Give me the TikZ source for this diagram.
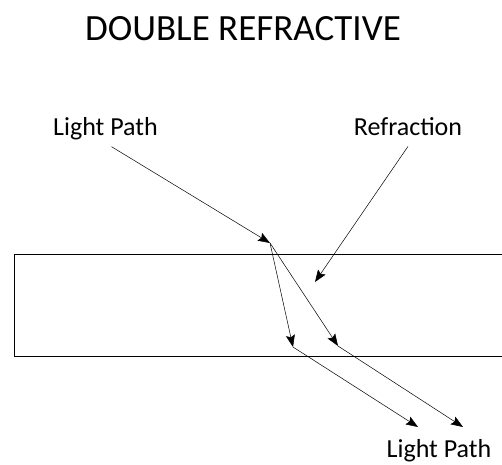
\documentclass[tikz,border=0pt]{standalone}
\usepackage{fontspec}
\setmainfont{Carlito}
\usetikzlibrary{arrows.meta,positioning,calc}
\tikzset{
  lbl/.style={anchor=base,inner sep=0pt,font=\fontsize{26}{30}\selectfont},
  ray/.style={-{Stealth[length=12pt,width=9pt,inset=2pt]},line width=0.5pt},
  slab/.style={line width=1pt},
}
\begin{document}
\begin{tikzpicture}[x=1pt,y=-1pt]
\useasboundingbox (0,0) rectangle (502,464);
\node[lbl,font=\fontsize{37}{42}\selectfont](title) at(243,40){DOUBLE REFRACTIVE};
\node[lbl](lpin) at(105.5,135){Light Path};
\node[lbl](refr) at(408,135){Refraction};
\node[lbl](lpout) at(439,457){Light Path};
% the crystal slab
\draw[slab] (502,254) -- (14,254) -- (14,356) -- (502,356);
\coordinate (hit) at (270,243);
\coordinate (o1) at (293,347);
\coordinate (o2) at (338,346);
\coordinate (e1) at (418,427);
\coordinate (e2) at (463,427);
\coordinate (rtip) at (315,282);
\draw[ray] ([shift={(6,7)}]lpin.south) -- (hit);
\draw[ray] ([shift={(0,11)}]refr.south) -- (rtip);
\draw[ray] (hit) -- (o1);
\draw[ray] (hit) -- (o2);
\draw[ray] (o1) -- (e1);
\draw[ray] (o2) -- (e2);
\end{tikzpicture}
\end{document}
